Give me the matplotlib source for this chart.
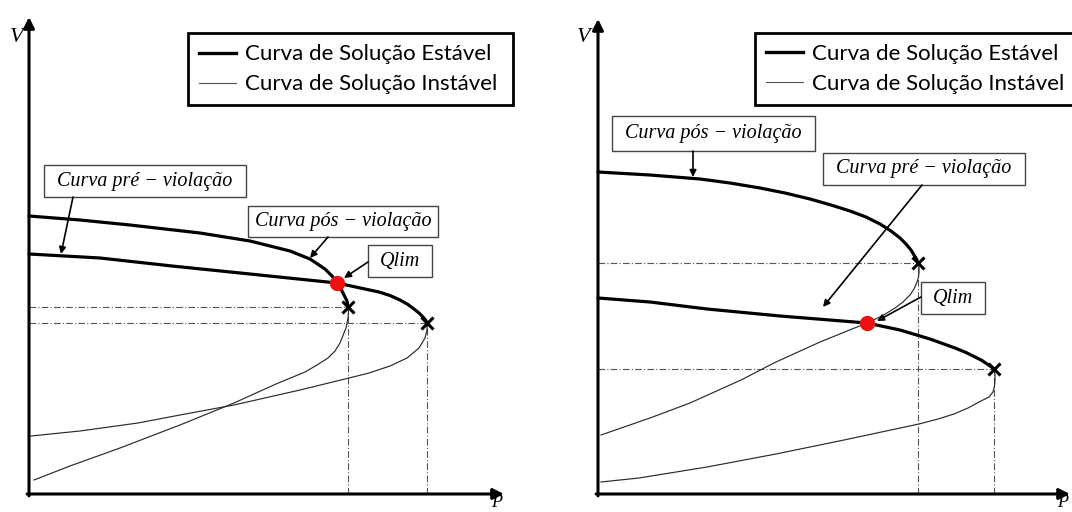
import matplotlib.pyplot as plt
from matplotlib.lines import Line2D
from matplotlib.patches import Rectangle

# ---------------------------------------------------------------- data
# left diagram (P, V in arbitrary units)
L_PRE_EST_P = [0.0, 7.1, 14.3, 22.1, 30.8, 35.0, 36.1, 37.1, 37.9, 38.5, 39.0, 39.4, 39.65, 39.8]
L_PRE_EST_V = [24.0, 23.6, 22.8, 22.0, 21.1, 20.2, 19.85, 19.4, 18.95, 18.5, 18.1, 17.7, 17.4, 17.1]
L_PRE_INS_P = [39.8, 39.8, 39.6, 39.0, 37.8, 36.1, 34.0, 31.6, 27.1, 20.5, 15.1, 10.9, 5.1, 0.2]
L_PRE_INS_V = [17.1, 16.4, 15.6, 14.6, 13.6, 12.8, 12.1, 11.5, 10.4, 8.9, 7.9, 7.1, 6.3, 5.8]
L_POS_EST_P = [0.0, 5.1, 10.1, 17.1, 22.1, 26.1, 28.1, 29.6, 30.3, 30.8, 31.2, 31.5, 31.8, 31.9]
L_POS_EST_V = [27.8, 27.4, 26.9, 26.1, 25.3, 24.3, 23.5, 22.5, 21.8, 21.1, 20.5, 19.9, 19.3, 18.7]
L_POS_INS_P = [31.9, 31.95, 31.9, 31.7, 31.1, 30.6, 29.9, 28.8, 27.6, 24.7, 20.5, 15.1, 9.1, 4.1, 0.5]
L_POS_INS_V = [18.7, 18.2, 17.6, 16.6, 15.1, 14.3, 13.6, 12.9, 12.2, 11.0, 9.1, 6.9, 4.6, 2.8, 1.4]
L_QLIM = (30.8, 21.1)
L_NOSES = [(31.9, 18.7), (39.8, 17.1)]

# right diagram
R_POS_EST_P = [0.0, 5.2, 10.2, 13.2, 16.2, 18.7, 21.2, 23.3, 25.2, 26.8, 28.2,
               29.3, 30.2, 30.8, 31.3, 31.6, 31.85, 32.0]
R_POS_EST_V = [32.2, 31.9, 31.5, 31.1, 30.6, 30.1, 29.5, 28.9, 28.3, 27.7, 27.0,
               26.3, 25.6, 25.0, 24.4, 23.9, 23.5, 23.1]
R_POS_INS_P = [32.0, 32.1, 32.1, 32.05, 31.9, 31.6, 31.2, 30.5, 29.7, 28.4, 26.9,
               22.2, 17.8, 14.3, 9.2, 5.2, 0.3]
R_POS_INS_V = [23.1, 22.6, 22.2, 21.7, 21.2, 20.5, 19.9, 19.2, 18.6, 17.8, 17.1,
               15.2, 13.2, 11.4, 9.1, 7.6, 5.9]
R_PRE_EST_P = [0.0, 5.2, 10.9, 18.2, 26.9, 30.2, 33.2, 35.7, 36.8, 37.7, 38.4, 38.9, 39.3, 39.6]
R_PRE_EST_V = [19.6, 19.2, 18.5, 17.8, 17.1, 16.4, 15.5, 14.6, 14.15, 13.7, 13.35, 13.0, 12.75, 12.5]
R_PRE_INS_P = [39.6, 39.7, 39.7, 39.65, 39.5, 39.1, 38.3, 37.0, 35.6, 34.0, 32.1,
               24.6, 17.8, 10.9, 4.1, 0.3]
R_PRE_INS_V = [12.5, 11.9, 11.4, 10.8, 10.2, 9.7, 9.3, 8.6, 8.0, 7.5, 7.0,
               5.4, 4.0, 2.7, 1.6, 1.2]
R_QLIM = (26.9, 17.1)
R_NOSES = [(32.0, 23.1), (39.6, 12.5)]

LEGEND_LABELS = ["Curva de Solução Estável", "Curva de Solução Instável"]
PRE_TXT = "Curva pré − violação"
POS_TXT = "Curva pós − violação"
QLIM_TXT = "Qlim"

SERIF = ["Liberation Serif", "DejaVu Serif"]
SANS = ["Lato", "DejaVu Sans"]
THICK = dict(color="black", lw=2.3, solid_capstyle="round", solid_joinstyle="round",
             clip_on=False, zorder=3)
THIN = dict(color="#2a2a2a", lw=0.85, solid_joinstyle="round", clip_on=False, zorder=2)
GUIDE = dict(color="#555555", lw=0.8, dashes=(6, 2, 1, 2), zorder=1)


def axes_arrows(ax):
    kw = dict(arrowstyle="-|>", color="black", lw=2.2, mutation_scale=16,
              shrinkA=0, shrinkB=0)
    ax.annotate("", xy=(0, 1), xytext=(0, -0.004), xycoords="axes fraction",
                arrowprops=kw, annotation_clip=False)
    ax.annotate("", xy=(1, 0), xytext=(-0.004, 0), xycoords="axes fraction",
                arrowprops=kw, annotation_clip=False)
    ax.set_axis_off()


def tag(ax, box, text, src, dst):
    x0, y0, x1, y1 = box
    ax.add_patch(Rectangle((x0, y0), x1 - x0, y1 - y0, facecolor="white",
                           edgecolor="#444444", lw=1.0, zorder=6, clip_on=False))
    ax.text((x0 + x1) / 2, (y0 + y1) / 2, text, ha="center", va="center",
            fontsize=14.5, style="italic", family=SERIF, zorder=7)
    ax.annotate("", xy=dst, xytext=src,
                arrowprops=dict(arrowstyle="-|>", color="black", lw=1.2,
                                mutation_scale=10, shrinkA=0, shrinkB=0),
                zorder=7, annotation_clip=False)


def nose_guides(ax, noses):
    for p, v in noses:
        ax.plot([0, p], [v, v], **GUIDE)
        ax.plot([p, p], [0, v], **GUIDE)
        ax.plot(p, v, marker="x", color="black", ms=9, mew=2.2, zorder=4)


def legend(ax, bbox):
    handles = [Line2D([], [], color="black", lw=2.4),
               Line2D([], [], color="#555555", lw=0.8)]
    leg = ax.legend(handles, LEGEND_LABELS, loc="upper left", bbox_to_anchor=bbox,
                    mode="expand", prop=dict(family=SANS, size=16),
                    frameon=True, fancybox=False, edgecolor="black",
                    framealpha=1, borderpad=0.5, borderaxespad=0,
                    handlelength=1.65, handletextpad=0.4, labelspacing=0.45)
    leg.get_frame().set_linewidth(2.0)
    leg.set_zorder(8)


def axis_names(ax, v_at, p_at):
    ax.text(*v_at, "V", fontsize=16, style="italic", family=SERIF,
            ha="center", va="center")
    ax.text(*p_at, "P", fontsize=13, style="italic", family=SERIF,
            ha="center", va="baseline")


fig = plt.figure(figsize=(10.72, 5.12), dpi=100)
ax_l = fig.add_axes([29 / 1072, 18 / 512, 475 / 1072, 477 / 512])
ax_r = fig.add_axes([598 / 1072, 18 / 512, 472 / 1072, 475 / 512])

# ── left: violation moves the operating point onto the lower curve ──────────
ax = ax_l
ax.set_xlim(0, 47.5); ax.set_ylim(0, 47.7)
axes_arrows(ax)
nose_guides(ax, L_NOSES)
ax.plot(L_PRE_EST_P, L_PRE_EST_V, **THICK)
ax.plot(L_POS_EST_P, L_POS_EST_V, **THICK)
ax.plot(L_PRE_INS_P, L_PRE_INS_V, **THIN)
ax.plot(L_POS_INS_P, L_POS_INS_V, **THIN)
ax.plot(*L_QLIM, "o", color="#ee1111", ms=10, zorder=5)
tag(ax, (1.5, 29.7, 21.7, 32.9), PRE_TXT, (4.4, 29.7), (3.2, 24.0))
tag(ax, (21.9, 25.7, 40.9, 28.8), POS_TXT, (29.9, 25.7), (28.1, 23.6))
tag(ax, (33.9, 21.7, 40.3, 24.9), QLIM_TXT, (33.9, 23.2), (31.5, 21.6))
legend(ax, (0.335, 0.811, 0.684, 0.155))
axis_names(ax, (-1.2, 45.7), (46.8, -1.3))

# ── right: violation moves the operating point onto the upper curve ─────────
ax = ax_r
ax.set_xlim(0, 47.2); ax.set_ylim(0, 47.5)
axes_arrows(ax)
nose_guides(ax, R_NOSES)
ax.plot(R_POS_EST_P, R_POS_EST_V, **THICK)
ax.plot(R_PRE_EST_P, R_PRE_EST_V, **THICK)
ax.plot(R_POS_INS_P, R_POS_INS_V, **THIN)
ax.plot(R_PRE_INS_P, R_PRE_INS_V, **THIN)
ax.plot(*R_QLIM, "o", color="#ee1111", ms=10, zorder=5)
tag(ax, (1.4, 34.3, 21.7, 37.8), POS_TXT, (9.5, 34.3), (9.5, 31.7))
tag(ax, (22.5, 30.9, 42.7, 34.1), PRE_TXT, (32.4, 30.9), (22.5, 18.7))
tag(ax, (32.3, 18.0, 38.7, 21.2), QLIM_TXT, (32.3, 19.7), (27.9, 17.3))
legend(ax, (0.3326, 0.808, 0.699, 0.1625))
axis_names(ax, (-1.4, 45.7), (46.5, -1.3))

fig.savefig("out.png", dpi=100, facecolor="white")
